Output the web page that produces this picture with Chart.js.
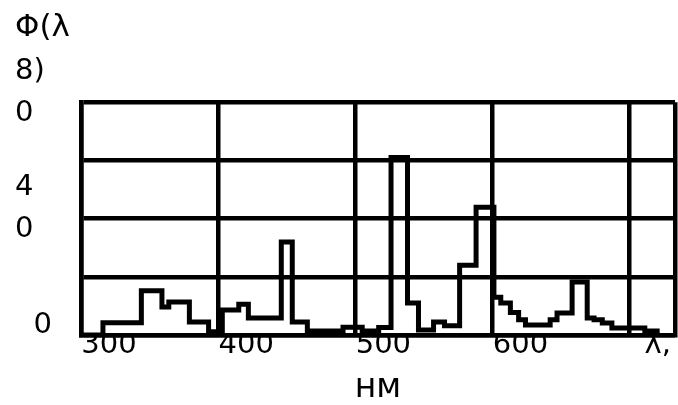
<!DOCTYPE html>
<html>
<head>
<meta charset="utf-8">
<script src="https://cdn.jsdelivr.net/npm/chart.js@4"></script>
<style>
  body { margin: 0; background: #fff; }
</style>
</head>
<body>
<canvas id="chart" width="678" height="405"></canvas>
<script>
// step levels: each value holds from its wavelength up to the next one
const wavelength = [300, 316, 344, 359, 364, 379, 393, 403, 415, 422, 446, 454, 465, 491, 505, 517,
    526, 538, 546, 557, 565, 576, 588, 601, 606, 613, 619, 624, 642, 647, 658, 669, 674, 680, 687, 711, 720];
const phi = [0, 4.2, 15.2, 9.6, 11.3, 4.5, 1.1, 8.6, 10.6, 5.8, 32, 4.5, 1.4, 2.7, 1.4, 2.6,
    61, 11.0, 1.7, 4.5, 3.2, 24.0, 43.9, 13.0, 11.0, 7.7, 5.2, 3.4, 5.2, 7.6, 18.2, 5.8, 5.2, 4.1, 2.4, 1.4, 0];

const xTickValues = [300, 400, 500, 600, 700, 733];
const xTickLabels = ['300', '400', '500', '600', 'λ,', ''];
const yTickValues = [0, 20, 40, 60, 80];
const yTickLabels = ['\u20070', '', ['4', '0'], '', ['8)', '0']];

const FONT = 'DejaVu Sans';

new Chart(document.getElementById('chart'), {
    type: 'line',
    data: {
        datasets: [{
            data: wavelength.map((x, i) => ({x: x, y: phi[i]})),
            borderColor: '#000',
            borderWidth: 5,
            stepped: 'before',
            pointRadius: 0,
            fill: false,
            borderJoinStyle: 'miter'
        }]
    },
    options: {
        responsive: false,
        animation: false,
        layout: {
            padding: {left: 15, right: 3, top: 0, bottom: 0}
        },
        plugins: {
            legend: {display: false},
            tooltip: {enabled: false},
            title: {
                display: true,
                text: 'Φ(λ',
                align: 'start',
                color: '#000',
                font: {family: FONT, size: 31, weight: 'normal', lineHeight: 1.2},
                padding: {top: 9, bottom: 56}
            }
        },
        scales: {
            x: {
                type: 'linear',
                min: 300,
                max: 733,
                afterBuildTicks: s => { s.ticks = xTickValues.map(v => ({value: v})); },
                afterFit: s => { s.height = 70; },
                grid: {color: '#000', lineWidth: 4.5, drawTicks: false},
                border: {color: '#000', width: 4.5},
                ticks: {
                    autoSkip: false,
                    maxRotation: 0,
                    minRotation: 0,
                    padding: -7,
                    labelOffset: 28,
                    color: '#000',
                    font: {family: FONT, size: 29},
                    callback: (v, i) => xTickLabels[i]
                },
                title: {
                    display: true,
                    text: 'нм',
                    color: '#000',
                    font: {family: FONT, size: 33, lineHeight: 1},
                    padding: {top: 0, bottom: 0}
                }
            },
            y: {
                min: 0,
                max: 80,
                afterBuildTicks: s => { s.ticks = yTickValues.map(v => ({value: v})); },
                afterFit: s => { s.width = 66; },
                grid: {color: '#000', lineWidth: 4.5, drawTicks: false},
                border: {color: '#000', width: 4.5},
                ticks: {
                    autoSkip: false,
                    crossAlign: 'far',
                    labelOffset: -10,
                    color: '#000',
                    font: {family: FONT, size: 29, lineHeight: '42px'},
                    callback: (v, i) => yTickLabels[i]
                }
            }
        }
    }
});
</script>
</body>
</html>
